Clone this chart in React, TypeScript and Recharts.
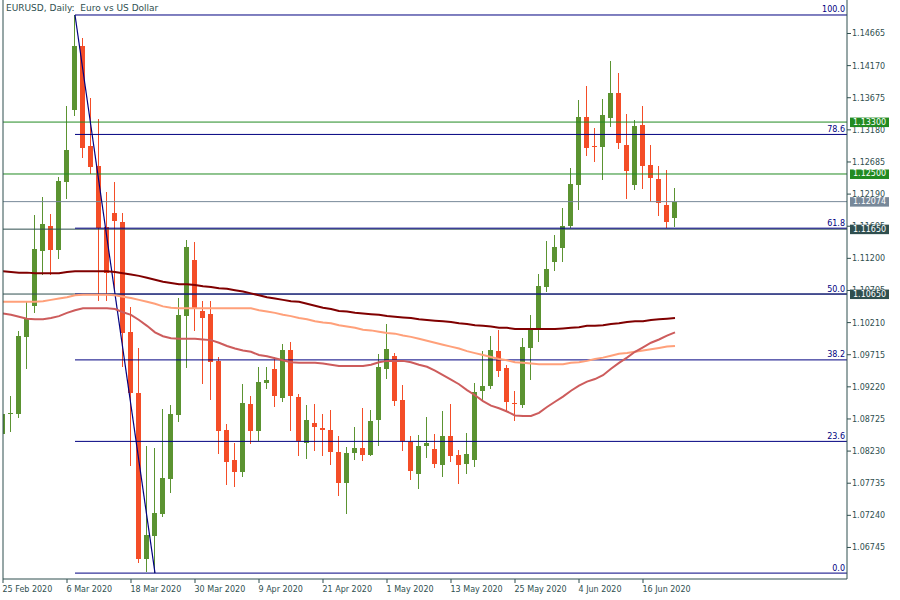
import React from "react";
import { ComposedChart, Bar, Line, XAxis, YAxis, ReferenceLine } from "recharts";

// EURUSD daily candles, 25 Feb 2020 .. 22 Jun 2020
const DATES = [
  "25 Feb 2020", "26 Feb 2020", "27 Feb 2020", "28 Feb 2020",
  "2 Mar 2020", "3 Mar 2020", "4 Mar 2020", "5 Mar 2020", "6 Mar 2020",
  "9 Mar 2020", "10 Mar 2020", "11 Mar 2020", "12 Mar 2020", "13 Mar 2020",
  "16 Mar 2020", "17 Mar 2020", "18 Mar 2020", "19 Mar 2020", "20 Mar 2020",
  "23 Mar 2020", "24 Mar 2020", "25 Mar 2020", "26 Mar 2020", "27 Mar 2020",
  "30 Mar 2020", "31 Mar 2020", "1 Apr 2020", "2 Apr 2020", "3 Apr 2020",
  "6 Apr 2020", "7 Apr 2020", "8 Apr 2020", "9 Apr 2020", "10 Apr 2020",
  "13 Apr 2020", "14 Apr 2020", "15 Apr 2020", "16 Apr 2020", "17 Apr 2020",
  "20 Apr 2020", "21 Apr 2020", "22 Apr 2020", "23 Apr 2020", "24 Apr 2020",
  "27 Apr 2020", "28 Apr 2020", "29 Apr 2020", "30 Apr 2020", "1 May 2020",
  "4 May 2020", "5 May 2020", "6 May 2020", "7 May 2020", "8 May 2020",
  "11 May 2020", "12 May 2020", "13 May 2020", "14 May 2020", "15 May 2020",
  "18 May 2020", "19 May 2020", "20 May 2020", "21 May 2020", "22 May 2020",
  "25 May 2020", "26 May 2020", "27 May 2020", "28 May 2020", "29 May 2020",
  "1 Jun 2020", "2 Jun 2020", "3 Jun 2020", "4 Jun 2020", "5 Jun 2020",
  "8 Jun 2020", "9 Jun 2020", "10 Jun 2020", "11 Jun 2020", "12 Jun 2020",
  "15 Jun 2020", "16 Jun 2020", "17 Jun 2020", "18 Jun 2020", "19 Jun 2020",
  "22 Jun 2020",
];

const OPEN = [
  1.0850, 1.0880, 1.0880, 1.0999, 1.1046, 1.1131, 1.1170, 1.1133, 1.1238, 1.1349,
  1.1447, 1.1293, 1.1262, 1.1168, 1.1190, 1.1176, 1.1006, 1.0912, 1.0657, 1.0692,
  1.0726, 1.0780, 1.0879, 1.1031, 1.1118, 1.1039, 1.1034, 1.0962, 1.0855, 1.0809,
  1.0791, 1.0896, 1.0854, 1.0928, 1.0950, 1.0905, 1.0979, 1.0906, 1.0835, 1.0866,
  1.0859, 1.0855, 1.0822, 1.0774, 1.0820, 1.0828, 1.0817, 1.0871, 1.0950, 1.0970,
  1.0902, 1.0837, 1.0788, 1.0831, 1.0826, 1.0802, 1.0846, 1.0817, 1.0803, 1.0809,
  1.0916, 1.0923, 1.0977, 1.0951, 1.0897, 1.0894, 1.0982, 1.1010, 1.1076, 1.1114,
  1.1136, 1.1170, 1.1233, 1.1338, 1.1293, 1.1292, 1.1336, 1.1375, 1.1295, 1.1233,
  1.1325, 1.1264, 1.1242, 1.1202, 1.1182,
];
const HIGH = [
  1.0886, 1.0908, 1.1008, 1.1054, 1.1187, 1.1215, 1.1188, 1.1245, 1.1355, 1.1495,
  1.1459, 1.1367, 1.1335, 1.1222, 1.1238, 1.1190, 1.1045, 1.0982, 1.0831, 1.0828,
  1.0888, 1.0894, 1.1059, 1.1148, 1.1145, 1.1054, 1.1054, 1.0968, 1.0865, 1.0835,
  1.0926, 1.0908, 1.0953, 1.0953, 1.0968, 1.0988, 1.0991, 1.0911, 1.0894, 1.0896,
  1.0880, 1.0886, 1.0846, 1.0829, 1.0860, 1.0889, 1.0886, 1.0973, 1.1019, 1.0974,
  1.0925, 1.0846, 1.0848, 1.0875, 1.0849, 1.0885, 1.0896, 1.0825, 1.0851, 1.0928,
  1.0977, 1.1000, 1.1010, 1.0956, 1.0916, 1.0997, 1.1033, 1.1096, 1.1147, 1.1156,
  1.1198, 1.1259, 1.1364, 1.1386, 1.1321, 1.1366, 1.1424, 1.1406, 1.1342, 1.1333,
  1.1355, 1.1295, 1.1262, 1.1256, 1.1228,
];
const LOW = [
  1.0847, 1.0852, 1.0874, 1.0950, 1.1036, 1.1094, 1.1094, 1.1119, 1.1211, 1.1339,
  1.1275, 1.1250, 1.1054, 1.1054, 1.1071, 1.0953, 1.0800, 1.0650, 1.0637, 1.0635,
  1.0721, 1.0758, 1.0868, 1.0951, 1.1008, 1.0926, 1.0902, 1.0818, 1.0771, 1.0768,
  1.0783, 1.0834, 1.0838, 1.0919, 1.0891, 1.0899, 1.0854, 1.0815, 1.0811, 1.0823,
  1.0815, 1.0802, 1.0754, 1.0726, 1.0809, 1.0808, 1.0815, 1.0831, 1.0934, 1.0892,
  1.0823, 1.0778, 1.0765, 1.0812, 1.0797, 1.0783, 1.0806, 1.0772, 1.0788, 1.0798,
  1.0902, 1.0919, 1.0937, 1.0883, 1.0869, 1.0889, 1.0933, 1.0991, 1.1068, 1.1100,
  1.1114, 1.1167, 1.1195, 1.1278, 1.1268, 1.1241, 1.1322, 1.1289, 1.1211, 1.1225,
  1.1227, 1.1207, 1.1185, 1.1167, 1.1168,
];
const CLOSE = [
  1.0880, 1.0881, 1.1000, 1.1028, 1.1135, 1.1173, 1.1133, 1.1239, 1.1287, 1.1447,
  1.1290, 1.1261, 1.1167, 1.1097, 1.1178, 1.1005, 1.0912, 1.0657, 1.0694, 1.0728,
  1.0781, 1.0880, 1.1033, 1.1137, 1.1042, 1.1028, 1.0960, 1.0854, 1.0806, 1.0791,
  1.0897, 1.0854, 1.0930, 1.0933, 1.0908, 1.0979, 1.0908, 1.0838, 1.0871, 1.0860,
  1.0855, 1.0822, 1.0774, 1.0820, 1.0828, 1.0817, 1.0869, 1.0953, 1.0980, 1.0900,
  1.0838, 1.0792, 1.0831, 1.0835, 1.0803, 1.0846, 1.0815, 1.0802, 1.0819, 1.0914,
  1.0923, 1.0979, 1.0946, 1.0899, 1.0896, 1.0983, 1.1010, 1.1077, 1.1104, 1.1137,
  1.1170, 1.1235, 1.1338, 1.1290, 1.1292, 1.1341, 1.1375, 1.1298, 1.1255, 1.1324,
  1.1262, 1.1244, 1.1205, 1.1176, 1.1207,
];

// moving averages (slow = maroon, mid = salmon, fast = indian red)
const MA_SLOW = [
  1.1100, 1.1099, 1.1098, 1.1098, 1.1097, 1.1097, 1.1097, 1.1097, 1.1099, 1.1100,
  1.1100, 1.1100, 1.1100, 1.1100, 1.1099, 1.1097, 1.1095, 1.1093, 1.1090, 1.1087,
  1.1084, 1.1082, 1.1080, 1.1080, 1.1079, 1.1077, 1.1076, 1.1074, 1.1073, 1.1071,
  1.1069, 1.1066, 1.1063, 1.1060, 1.1058, 1.1056, 1.1054, 1.1053, 1.1050, 1.1047,
  1.1044, 1.1042, 1.1039, 1.1038, 1.1036, 1.1035, 1.1034, 1.1033, 1.1031, 1.1030,
  1.1029, 1.1028, 1.1026, 1.1025, 1.1024, 1.1023, 1.1022, 1.1020, 1.1019, 1.1017,
  1.1016, 1.1015, 1.1013, 1.1013, 1.1011, 1.1011, 1.1011, 1.1011, 1.1011, 1.1011,
  1.1012, 1.1013, 1.1014, 1.1016, 1.1016, 1.1017, 1.1019, 1.1020, 1.1022, 1.1023,
  1.1023, 1.1025, 1.1026, 1.1027, 1.1028,
];
const MA_MID = [
  1.1053, 1.1053, 1.1053, 1.1053, 1.1053, 1.1054, 1.1056, 1.1058, 1.1060, 1.1063,
  1.1064, 1.1064, 1.1064, 1.1064, 1.1063, 1.1061, 1.1059, 1.1056, 1.1053, 1.1050,
  1.1046, 1.1044, 1.1043, 1.1043, 1.1043, 1.1043, 1.1043, 1.1043, 1.1043, 1.1043,
  1.1043, 1.1043, 1.1040, 1.1038, 1.1036, 1.1033, 1.1031, 1.1028, 1.1026, 1.1023,
  1.1021, 1.1020, 1.1017, 1.1015, 1.1013, 1.1010, 1.1009, 1.1007, 1.1005, 1.1004,
  1.1001, 1.0999, 1.0996, 1.0993, 1.0990, 1.0987, 1.0984, 1.0981, 1.0977, 1.0974,
  1.0971, 1.0968, 1.0965, 1.0963, 1.0960, 1.0959, 1.0958, 1.0957, 1.0957, 1.0957,
  1.0957, 1.0959, 1.0960, 1.0962, 1.0965, 1.0967, 1.0970, 1.0973, 1.0974, 1.0976,
  1.0978, 1.0980, 1.0982, 1.0984, 1.0985,
];
const MA_FAST = [
  1.1035, 1.1033, 1.1030, 1.1027, 1.1026, 1.1026, 1.1028, 1.1031, 1.1036, 1.1040,
  1.1043, 1.1043, 1.1043, 1.1043, 1.1042, 1.1037, 1.1033, 1.1025, 1.1016, 1.1006,
  1.1000, 1.0997, 1.0996, 1.0996, 1.0996, 1.0995, 1.0994, 1.0990, 1.0985, 1.0981,
  1.0978, 1.0976, 1.0971, 1.0969, 1.0966, 1.0963, 1.0960, 1.0959, 1.0959, 1.0959,
  1.0958, 1.0956, 1.0954, 1.0954, 1.0954, 1.0954, 1.0956, 1.0960, 1.0962, 1.0962,
  1.0962, 1.0960, 1.0956, 1.0953, 1.0947, 1.0940, 1.0933, 1.0926, 1.0917, 1.0909,
  1.0900, 1.0893, 1.0889, 1.0884, 1.0878, 1.0877, 1.0877, 1.0882, 1.0891, 1.0899,
  1.0907, 1.0916, 1.0924, 1.0930, 1.0934, 1.0940, 1.0950, 1.0959, 1.0967, 1.0976,
  1.0983, 1.0990, 1.0995, 1.1001, 1.1006,
];

const PRICE_TICKS = [
  1.06745, 1.0724, 1.07735, 1.0823, 1.08725, 1.0922, 1.09715, 1.1021, 1.10705,
  1.112, 1.11695, 1.1219, 1.12685, 1.1318, 1.13675, 1.1417, 1.14665,
];
const DATE_TICKS = [0, 8, 16, 24, 32, 40, 48, 56, 64, 72, 80];

// fibonacci retracement from the 9 Mar high to the 23 Mar low
const FIB_HIGH = 1.1495;
const FIB_LOW = 1.0635;
const FIB_HIGH_DAY = 9;
const FIB_LOW_DAY = 19;
const FIB_LEVELS = [100, 78.6, 61.8, 50, 38.2, 23.6, 0];

const GREEN_LEVELS = [1.133, 1.125];
const DARK_LEVELS = [1.1165, 1.1065];
const BID = 1.12074;

const data = DATES.map((d, i) => ({
  i,
  date: d,
  o: OPEN[i],
  h: HIGH[i],
  l: LOW[i],
  c: CLOSE[i],
  range: [LOW[i], HIGH[i]],
  maSlow: MA_SLOW[i],
  maMid: MA_MID[i],
  maFast: MA_FAST[i],
}));

const FONT = "DejaVu Sans";
const AXIS = "#2f4f4f";
const UP = "#5b9331";
const DOWN = "#f44d27";
const NAVY = "#000080";
const LEVEL_GREEN = "#228b22";
const BID_GREY = "#778899";
const X_MAX = 105.5;
const Y_DOMAIN = [1.06259, 1.15181];
const MARGIN = { top: 0, right: 0, bottom: 0, left: 0 };
const OVERLAY_MARGIN = { top: 0, right: 53, bottom: 21, left: 3 };

function Candle(props: any) {
  const { x, y, width, height, payload } = props;
  if (x == null || y == null || !payload) return null;
  const { o, h, l, c } = payload;
  const k = h === l ? 0 : height / (h - l);
  const px = Math.floor(x + width / 2 - 0.5);
  const top = y + (h - Math.max(o, c)) * k;
  const bot = y + (h - Math.min(o, c)) * k;
  const col = c >= o ? UP : DOWN;
  return (
    <g shapeRendering="crispEdges">
      <line x1={px + 0.5} x2={px + 0.5} y1={y} y2={y + height} stroke={col} strokeWidth={1} />
      <rect x={px - 2} y={top} width={5} height={Math.max(1, bot - top)} fill={col} />
    </g>
  );
}

function PriceTag(props: any) {
  const { viewBox, text, bg } = props;
  if (!viewBox) return null;
  const x = viewBox.x + viewBox.width + 3;
  const y = viewBox.y;
  return (
    <g>
      <rect x={x} y={y - 4.5} width={39} height={9.5} fill={bg} />
      <text x={x + 3} y={y + 2.5} fill="#ffffff" fontSize={8} fontFamily={FONT}>
        {text}
      </text>
    </g>
  );
}

function FibLabel(props: any) {
  const { viewBox, text } = props;
  if (!viewBox) return null;
  return (
    <text
      x={viewBox.x + viewBox.width - 2}
      y={viewBox.y - 2.5}
      textAnchor="end"
      fill={NAVY}
      fontSize={8}
      fontFamily={FONT}
    >
      {text}
    </text>
  );
}

function DateTick(props: any) {
  const { x, y, payload } = props;
  return (
    <text x={x - 0.5} y={y} dy={7} textAnchor="start" fill={AXIS} fontSize={8} fontFamily={FONT}>
      {DATES[payload.value]}
    </text>
  );
}

function PriceTick(props: any) {
  const { x, y, payload } = props;
  return (
    <text x={x} y={y} dy={3} textAnchor="start" fill={AXIS} fontSize={8} fontFamily={FONT}>
      {payload.value.toFixed(5)}
    </text>
  );
}

// price tags sit above the axis labels, so they live in a second chart on top
function TagLayer() {
  const tags = [
    ...GREEN_LEVELS.map((p) => ({ p, bg: LEVEL_GREEN })),
    { p: BID, bg: BID_GREY },
    ...DARK_LEVELS.map((p) => ({ p, bg: AXIS })),
  ];
  return (
    <ComposedChart width={900} height={600} data={data} margin={OVERLAY_MARGIN}>
      <XAxis dataKey="i" type="number" domain={[0, X_MAX]} allowDataOverflow hide />
      <YAxis yAxisId="p" domain={Y_DOMAIN} allowDataOverflow hide />
      {tags.map((t) => (
        <ReferenceLine
          key={"t" + t.p}
          yAxisId="p"
          y={t.p}
          stroke="none"
          label={<PriceTag text={t.p.toFixed(5)} bg={t.bg} />}
        />
      ))}
    </ComposedChart>
  );
}

export default function App() {
  return (
    <div style={{ position: "absolute", left: 0, top: 0, width: 900, height: 600, background: "#fff" }}>
      <ComposedChart width={900} height={600} data={data} margin={MARGIN}>
        <XAxis
          dataKey="i"
          type="number"
          domain={[0, X_MAX]}
          allowDataOverflow
          ticks={DATE_TICKS}
          interval={0}
          height={21}
          tickSize={4}
          tickMargin={2}
          stroke={AXIS}
          tick={<DateTick />}
        />
        <YAxis yAxisId="frame" orientation="left" width={3} domain={[0, 1]} tick={false} tickLine={false} stroke={AXIS} />
        <YAxis
          yAxisId="p"
          orientation="right"
          width={53}
          domain={Y_DOMAIN}
          allowDataOverflow
          ticks={PRICE_TICKS}
          interval={0}
          tickSize={4}
          tickMargin={1}
          stroke={AXIS}
          tick={<PriceTick />}
        />

        {GREEN_LEVELS.map((p) => (
          <ReferenceLine key={"g" + p} yAxisId="p" y={p} stroke={LEVEL_GREEN} strokeWidth={1} />
        ))}
        <ReferenceLine yAxisId="p" y={BID} stroke={BID_GREY} strokeWidth={1} />
        {DARK_LEVELS.map((p) => (
          <ReferenceLine key={"d" + p} yAxisId="p" y={p} stroke={AXIS} strokeWidth={1} />
        ))}
        {FIB_LEVELS.map((lv) => {
          const p = FIB_LOW + ((FIB_HIGH - FIB_LOW) * lv) / 100;
          return (
            <ReferenceLine
              key={"f" + lv}
              yAxisId="p"
              segment={[
                { x: FIB_HIGH_DAY, y: p },
                { x: X_MAX, y: p },
              ]}
              stroke={NAVY}
              strokeWidth={1}
              label={<FibLabel text={lv.toFixed(1)} />}
            />
          );
        })}
        <ReferenceLine
          yAxisId="p"
          segment={[
            { x: FIB_HIGH_DAY, y: FIB_HIGH },
            { x: FIB_LOW_DAY, y: FIB_LOW },
          ]}
          stroke={NAVY}
          strokeWidth={1.2}
        />

        <Bar yAxisId="p" dataKey="range" barSize={5} shape={<Candle />} isAnimationActive={false} />
        <Line yAxisId="p" type="linear" dataKey="maSlow" stroke="#800000" strokeWidth={2} dot={false} isAnimationActive={false} />
        <Line yAxisId="p" type="linear" dataKey="maMid" stroke="#ffa07a" strokeWidth={2} dot={false} isAnimationActive={false} />
        <Line yAxisId="p" type="linear" dataKey="maFast" stroke="#cd5c5c" strokeWidth={2} dot={false} isAnimationActive={false} />
      </ComposedChart>
      <div style={{ position: "absolute", left: 0, top: 0 }}>
        <TagLayer />
      </div>
      <div
        style={{
          position: "absolute",
          left: 6,
          top: 3,
          fontFamily: FONT,
          fontSize: 9,
          lineHeight: "11px",
          color: AXIS,
          whiteSpace: "pre",
        }}
      >
        {"EURUSD, Daily:  Euro vs US Dollar"}
      </div>
    </div>
  );
}
